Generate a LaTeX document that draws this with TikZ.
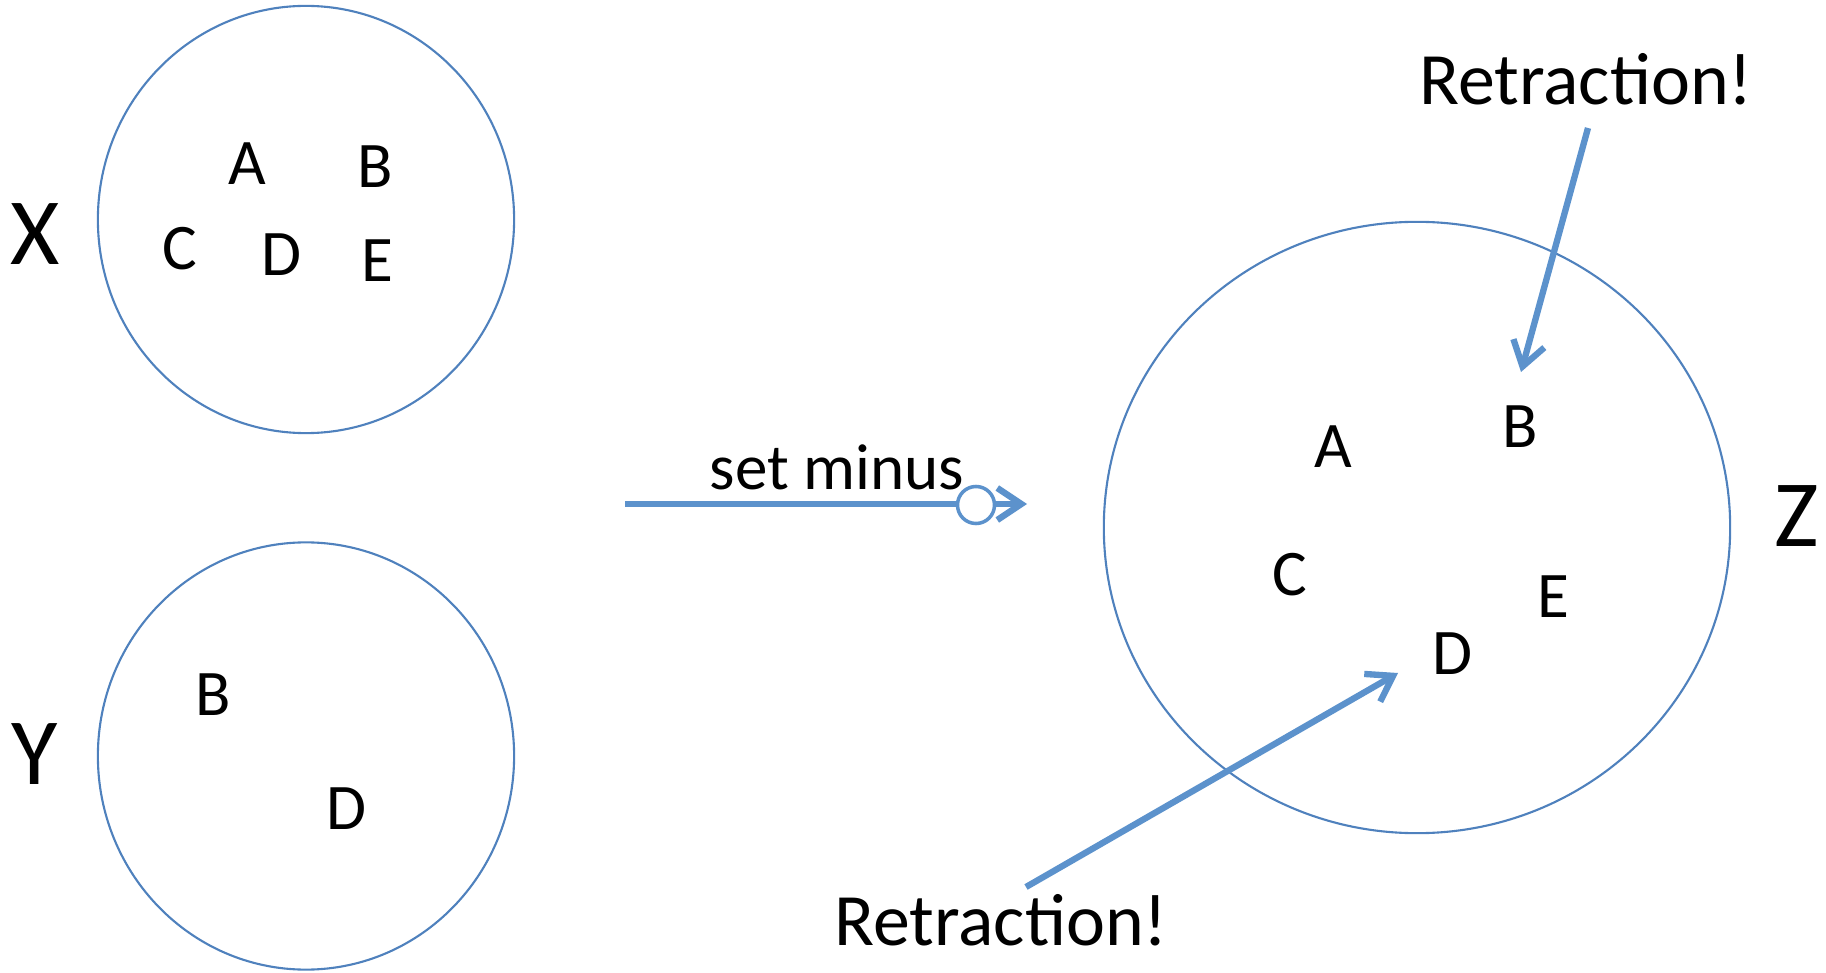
\documentclass[tikz,border=0pt]{standalone}
\usepackage{fontspec}
\setmainfont{Carlito}
\definecolor{setblue}{RGB}{79,129,189}
\definecolor{arrowblue}{RGB}{92,146,204}
\usetikzlibrary{arrows.meta,shapes.geometric}

\begin{document}
\begin{tikzpicture}[
      x=0.01cm, y=-0.01cm,
      setring/.style={draw=setblue, line width=0.6pt, ellipse, inner sep=0pt},
      elem/.style={inner sep=0pt, font=\fontsize{18.5}{18.5}\selectfont},
      setname/.style={inner sep=0pt, font=\fontsize{27}{27}\selectfont},
      callout/.style={inner sep=0pt, font=\fontsize{21}{21}\selectfont},
      arr/.style={-{Straight Barb[length=2.4mm, width=3.2mm]}, line width=1.8pt, arrowblue}]
    \useasboundingbox (0,0) rectangle (1826,973);
    % the three sets
    \node[setring, minimum width=4.16cm, minimum height=4.27cm] (setX) at (306,219.5) {};
    \node[setring, minimum width=4.16cm, minimum height=4.27cm] (setY) at (306,756) {};
    \node[setring, minimum width=6.26cm, minimum height=6.11cm] (setZ) at (1417,527.5) {};
    \node[setname] (labX) at (35,234) {X};
    \node[setname] (labY) at (35,754) {Y};
    \node[setname] (labZ) at (1797,516) {Z};
    % elements of X
    \node[elem] (xA) at (247,164) {A};
    \node[elem] (xB) at (375,167) {B};
    \node[elem] (xC) at (180,249) {C};
    \node[elem] (xD) at (282,255) {D};
    \node[elem] (xE) at (377,261) {E};
    % elements of Y
    \node[elem] (yB) at (213,695) {B};
    \node[elem] (yD) at (347,809) {D};
    % elements of Z
    \node[elem] (zA) at (1333,447) {A};
    \node[elem] (zB) at (1520,427) {B};
    \node[elem] (zC) at (1290,575) {C};
    \node[elem] (zD) at (1453,654) {D};
    \node[elem] (zE) at (1553,597) {E};
    % set minus operator
    \coordinate (op0) at (625,504);
    \coordinate (op1) at (1027,504);
    \draw[arr] (op0) -- (op1);
    \node[circle, draw=arrowblue, line width=1pt, fill=white, minimum size=0.37cm, inner sep=0pt] (opdot) at (976,505) {};
    \node[elem] (oplabel) at (837,467) {set minus};
    % retractions
    \node[callout] (rettop) at (1586,79) {Retraction!};
    \node[callout] (retbot) at (1001,920) {Retraction!};
    \coordinate (tailB) at (1588,128);
    \coordinate (tipB) at (1521,372);
    \coordinate (tailD) at (1026,887);
    \coordinate (tipD) at (1398,673);
    \draw[arr] (tailB) -- (tipB);
    \draw[arr] (tailD) -- (tipD);
  \end{tikzpicture}
\end{document}
